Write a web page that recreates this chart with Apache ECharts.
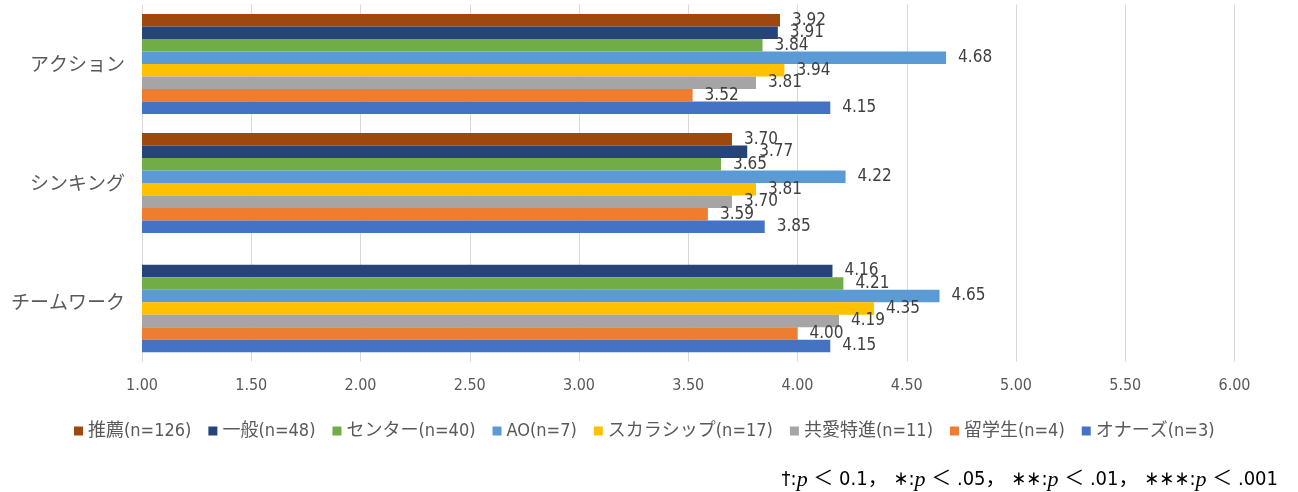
<!DOCTYPE html>
<html>
<head>
<meta charset="utf-8">
<script src="https://cdn.jsdelivr.net/npm/echarts@6/dist/echarts.min.js"></script>
<style>html,body{margin:0;padding:0;background:#fff;}#c{width:1298px;height:492px;}</style>
</head>
<body>
<div id="c"></div>
<script>
const categories = ['アクション', 'シンキング', 'チームワーク'];
const seriesNames = ['推薦(n=126)', '一般(n=48)', 'センター(n=40)', 'AO(n=7)', 'スカラシップ(n=17)', '共愛特進(n=11)', '留学生(n=4)', 'オナーズ(n=3)'];
const suisen = [3.92, 3.70, null];
const ippan = [3.91, 3.77, 4.16];
const center = [3.84, 3.65, 4.21];
const ao = [4.68, 4.22, 4.65];
const scholarship = [3.94, 3.81, 4.35];
const kyoaiTokushin = [3.81, 3.70, 4.19];
const ryugakusei = [3.52, 3.59, 4.00];
const honors = [4.15, 3.85, 4.15];
const xTicks = [1.00, 1.50, 2.00, 2.50, 3.00, 3.50, 4.00, 4.50, 5.00, 5.50, 6.00];
const noteText = '†:{i|p} ＜ 0.1， ∗:{i|p} ＜ .05， ∗∗:{i|p} ＜ .01， ∗∗∗:{i|p} ＜ .001';

const values = [suisen, ippan, center, ao, scholarship, kyoaiTokushin, ryugakusei, honors];
const colors = ['#9E480E', '#264478', '#70AD47', '#5B9BD5', '#FFC000', '#A5A5A5', '#ED7D31', '#4472C4'];

const chart = echarts.init(document.getElementById('c'), null, {renderer: 'canvas'});
chart.setOption({
  animation: false,
  color: colors,
  title: {
    text: noteText,
    right: 15,
    top: 464,
    textStyle: {
      fontFamily: 'DejaVu Sans Condensed, Noto Sans CJK JP',
      fontSize: 20,
      fontWeight: 'normal',
      color: '#000',
      rich: {
        i: {fontFamily: 'Liberation Serif', fontStyle: 'italic', fontSize: 22, color: '#000'}
      }
    }
  },
  legend: {
    top: 417,
    left: 69,
    icon: 'rect',
    itemWidth: 9,
    itemHeight: 9,
    itemGap: 17,
    textStyle: {fontFamily: 'DejaVu Sans Condensed, Noto Sans CJK JP', fontSize: 18, color: '#595959'},
    data: seriesNames
  },
  grid: {left: 142, right: 63.5, top: 4.5, bottom: 130.3, containLabel: false},
  xAxis: {
    type: 'value',
    min: xTicks[0],
    max: xTicks[xTicks.length - 1],
    interval: 0.5,
    axisLine: {show: false},
    axisTick: {show: false},
    splitLine: {show: true, lineStyle: {color: '#d9d9d9', width: 1}},
    axisLabel: {
      formatter: v => v.toFixed(2),
      fontFamily: 'DejaVu Sans Condensed',
      fontSize: 16,
      color: '#595959',
      margin: 16
    }
  },
  yAxis: {
    type: 'category',
    inverse: true,
    data: categories,
    axisLine: {show: false},
    axisTick: {show: false},
    axisLabel: {fontFamily: 'Noto Sans CJK JP', fontSize: 19, color: '#595959', margin: 17}
  },
  series: seriesNames.map((name, i) => ({
    name: name,
    type: 'bar',
    data: values[i],
    barGap: '0%',
    barCategoryGap: '16%',
    itemStyle: {color: colors[i]},
    label: {
      show: true,
      position: 'right',
      distance: 12,
      formatter: p => (p.value == null ? '' : p.value.toFixed(2)),
      fontFamily: 'DejaVu Sans Condensed',
      fontSize: 17,
      color: '#404040'
    }
  }))
});
</script>
</body>
</html>
